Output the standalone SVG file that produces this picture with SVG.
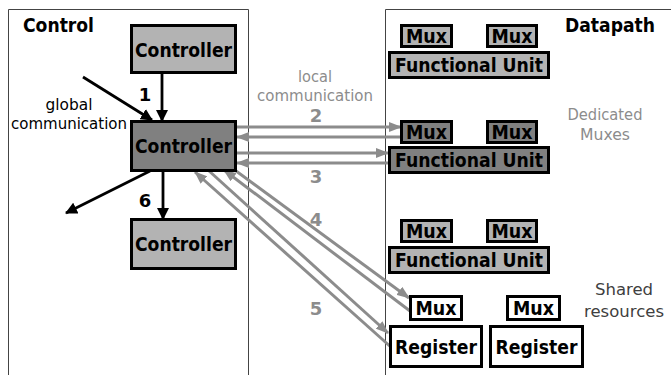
<svg xmlns="http://www.w3.org/2000/svg" width="671" height="375" viewBox="0 0 671 375">
  <style>
    .panel { fill: none; stroke: #444; stroke-width: 1; }
    .box { stroke: #000; stroke-width: 3; }
    .light { fill: #b3b3b3; }
    .dark { fill: #808080; }
    .white { fill: #fff; }
    .bold { font-family: "DejaVu Sans", Verdana, sans-serif; font-weight: bold; fill: #000; }
    .lbl { font-family: "DejaVu Sans", Verdana, sans-serif; }
    .gray { fill: #8c8c8c; }
    .ctrl { font-size: 19px; text-anchor: middle; }
    .mux { font-size: 19px; text-anchor: middle; }
    .fu { font-size: 19px; text-anchor: middle; }
    .num { font-size: 18px; text-anchor: middle; }
    .blk { stroke: #000; stroke-width: 2.8; fill: none; }
    .gry { stroke: #8c8c8c; stroke-width: 3; fill: none; }
  </style>
  <defs>
    <marker id="headBlack" markerUnits="userSpaceOnUse" markerWidth="13" markerHeight="12" refX="11" refY="6" orient="auto">
      <path d="M0,0 L12,6 L0,12 z" fill="#000"/>
    </marker>
    <marker id="headGray" markerUnits="userSpaceOnUse" markerWidth="14" markerHeight="10" refX="12" refY="5" orient="auto">
      <path d="M0,0 L13,5 L0,10 z" fill="#8c8c8c"/>
    </marker>
  </defs>

  <rect width="671" height="375" fill="#fff"/>

  <!-- Panels: open on the right / bottom, running past the canvas -->
  <g id="control-panel">
    <path class="panel" d="M8.5,380 V9.5 H248.5 V380"/>
    <text class="bold" x="23" y="32" font-size="19" textLength="71" lengthAdjust="spacingAndGlyphs">Control</text>
  </g>
  <g id="datapath-panel">
    <path class="panel" d="M385.5,380 V9.5 H671"/>
    <text class="bold" x="565" y="32" font-size="19" textLength="90" lengthAdjust="spacingAndGlyphs">Datapath</text>
  </g>

  <!-- Connectors -->
  <g id="connectors">
    <line class="blk" x1="162" y1="73" x2="162" y2="121" marker-end="url(#headBlack)"/>
    <line class="blk" x1="83" y1="77" x2="152" y2="120" marker-end="url(#headBlack)"/>
    <line class="blk" x1="163" y1="171" x2="163" y2="219" marker-end="url(#headBlack)"/>
    <line class="blk" x1="150" y1="171" x2="66" y2="213" marker-end="url(#headBlack)"/>

    <line class="gry" x1="237" y1="127" x2="401" y2="127" marker-end="url(#headGray)"/>
    <line class="gry" x1="401" y1="137" x2="237" y2="137" marker-end="url(#headGray)"/>
    <line class="gry" x1="237" y1="153" x2="388" y2="153" marker-end="url(#headGray)"/>
    <line class="gry" x1="389" y1="163" x2="237" y2="163" marker-end="url(#headGray)"/>

    <line class="gry" x1="392" y1="348" x2="195" y2="172" marker-end="url(#headGray)"/>
    <line class="gry" x1="208" y1="170" x2="388" y2="333" marker-end="url(#headGray)"/>
    <line class="gry" x1="410" y1="311" x2="224" y2="170" marker-end="url(#headGray)"/>
    <line class="gry" x1="232" y1="168" x2="409" y2="298" marker-end="url(#headGray)"/>
  </g>

  <!-- Controllers -->
  <g id="controller-top">
    <rect class="box light" x="131.5" y="25.5" width="104" height="47"/>
    <text class="bold ctrl" x="183.5" y="57" textLength="97" lengthAdjust="spacingAndGlyphs">Controller</text>
  </g>
  <g id="controller-mid">
    <rect class="box dark" x="131.5" y="121.5" width="104" height="49"/>
    <text class="bold ctrl" x="183.5" y="153" textLength="97" lengthAdjust="spacingAndGlyphs">Controller</text>
  </g>
  <g id="controller-bottom">
    <rect class="box light" x="131.5" y="219.5" width="104" height="49"/>
    <text class="bold ctrl" x="183.5" y="251" textLength="97" lengthAdjust="spacingAndGlyphs">Controller</text>
  </g>

  <!-- Datapath row 1 -->
  <g id="mux-1a">
    <rect class="box light" x="401.5" y="25.5" width="50" height="21"/>
    <text class="bold mux" x="426.5" y="43" textLength="41" lengthAdjust="spacingAndGlyphs">Mux</text>
  </g>
  <g id="mux-1b">
    <rect class="box light" x="487.5" y="25.5" width="49" height="21"/>
    <text class="bold mux" x="512" y="43" textLength="41" lengthAdjust="spacingAndGlyphs">Mux</text>
  </g>
  <g id="fu-1">
    <rect class="box light" x="389.5" y="52.5" width="159" height="25"/>
    <text class="bold fu" x="469" y="71.5" textLength="148" lengthAdjust="spacingAndGlyphs">Functional Unit</text>
  </g>

  <!-- Datapath row 2 -->
  <g id="mux-2a">
    <rect class="box dark" x="401.5" y="121.5" width="50" height="21"/>
    <text class="bold mux" x="426.5" y="139" textLength="41" lengthAdjust="spacingAndGlyphs">Mux</text>
  </g>
  <g id="mux-2b">
    <rect class="box dark" x="487.5" y="121.5" width="49" height="21"/>
    <text class="bold mux" x="512" y="139" textLength="41" lengthAdjust="spacingAndGlyphs">Mux</text>
  </g>
  <g id="fu-2">
    <rect class="box dark" x="389.5" y="147.5" width="159" height="25"/>
    <text class="bold fu" x="469" y="167" textLength="148" lengthAdjust="spacingAndGlyphs">Functional Unit</text>
  </g>

  <!-- Datapath row 3 -->
  <g id="mux-3a">
    <rect class="box light" x="401.5" y="220.5" width="50" height="21"/>
    <text class="bold mux" x="426.5" y="238" textLength="41" lengthAdjust="spacingAndGlyphs">Mux</text>
  </g>
  <g id="mux-3b">
    <rect class="box light" x="487.5" y="220.5" width="49" height="21"/>
    <text class="bold mux" x="512" y="238" textLength="41" lengthAdjust="spacingAndGlyphs">Mux</text>
  </g>
  <g id="fu-3">
    <rect class="box light" x="389.5" y="247.5" width="159" height="25"/>
    <text class="bold fu" x="469" y="267" textLength="148" lengthAdjust="spacingAndGlyphs">Functional Unit</text>
  </g>

  <!-- Shared resources -->
  <g id="mux-shared-a">
    <rect class="box white" x="410.5" y="296.5" width="51" height="23"/>
    <text class="bold mux" x="436" y="315" textLength="41" lengthAdjust="spacingAndGlyphs">Mux</text>
  </g>
  <g id="mux-shared-b">
    <rect class="box white" x="507.5" y="296.5" width="52" height="23"/>
    <text class="bold mux" x="533.5" y="315" textLength="41" lengthAdjust="spacingAndGlyphs">Mux</text>
  </g>
  <g id="register-a">
    <rect class="box white" x="390.5" y="326.5" width="91" height="40"/>
    <text class="bold ctrl" x="436" y="354" textLength="82" lengthAdjust="spacingAndGlyphs">Register</text>
  </g>
  <g id="register-b">
    <rect class="box white" x="490.5" y="326.5" width="92" height="40"/>
    <text class="bold ctrl" x="536.5" y="354" textLength="82" lengthAdjust="spacingAndGlyphs">Register</text>
  </g>

  <!-- Labels -->
  <g id="labels">
    <text class="lbl" font-size="16.5" text-anchor="middle" x="69" y="110" textLength="47" lengthAdjust="spacingAndGlyphs">global</text>
    <text class="lbl" font-size="16.5" text-anchor="middle" x="69" y="129" textLength="116" lengthAdjust="spacingAndGlyphs">communication</text>
    <text class="lbl gray" font-size="16.5" text-anchor="middle" x="315" y="82" textLength="34" lengthAdjust="spacingAndGlyphs">local</text>
    <text class="lbl gray" font-size="16.5" text-anchor="middle" x="315" y="101" textLength="116" lengthAdjust="spacingAndGlyphs">communication</text>
    <text class="lbl gray" font-size="16.5" text-anchor="middle" x="605" y="120" textLength="75" lengthAdjust="spacingAndGlyphs">Dedicated</text>
    <text class="lbl gray" font-size="16.5" text-anchor="middle" x="605" y="140" textLength="50" lengthAdjust="spacingAndGlyphs">Muxes</text>
    <text class="lbl" fill="#404040" font-size="16.5" text-anchor="middle" x="624" y="295">Shared</text>
    <text class="lbl" fill="#404040" font-size="16.5" text-anchor="middle" x="624" y="317">resources</text>

    <text class="bold num" x="145" y="101">1</text>
    <text class="bold num" x="145" y="207">6</text>
    <text class="bold num gray" x="316" y="122">2</text>
    <text class="bold num gray" x="316" y="183">3</text>
    <text class="bold num gray" x="316" y="226">4</text>
    <text class="bold num gray" x="316" y="315">5</text>
  </g>
</svg>
